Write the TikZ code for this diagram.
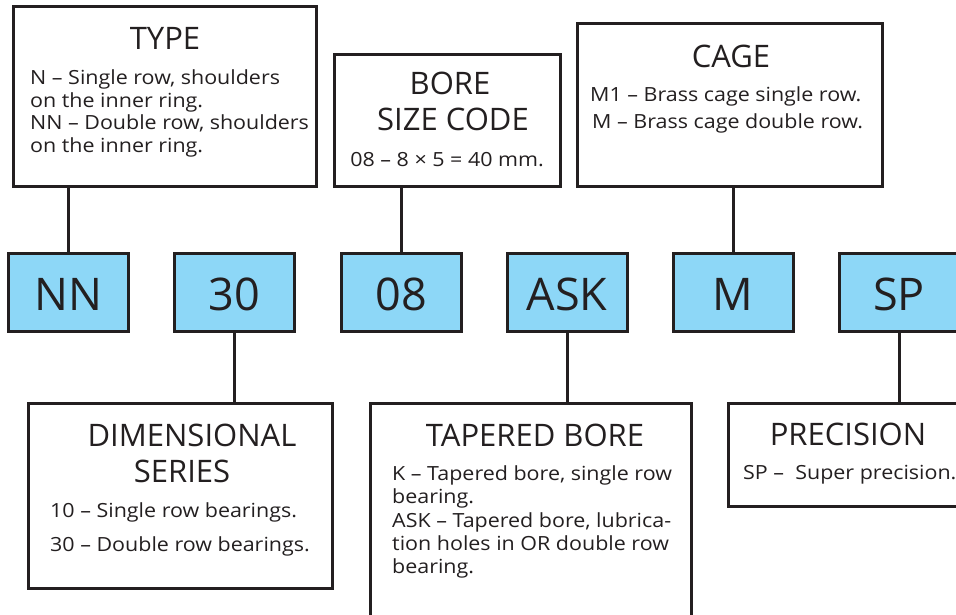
\documentclass[tikz,border=0pt]{standalone}
\usepackage{fontspec}
\setmainfont{Open Sans}
\newfontfamily\bodyfont{Open Sans}[FakeStretch=1.1]
\definecolor{ink}{HTML}{231F20}
\definecolor{codeblue}{HTML}{8DD7F7}
\tikzset{
  box/.style={draw=ink, line width=3pt, fill=white, inner sep=0pt, anchor=north west},
  codebox/.style={draw=ink, line width=3pt, fill=codeblue, inner sep=0pt, minimum width=120pt, minimum height=78pt},
  conn/.style={draw=ink, line width=3pt},
  ttl/.style={inner sep=0pt, anchor=base, text=ink, font=\fontsize{31}{36}\selectfont},
  body/.style={inner sep=0pt, anchor=base west, text=ink, font=\bodyfont\fontsize{19.5}{23}\selectfont},
  bodyc/.style={inner sep=0pt, anchor=base, text=ink, font=\bodyfont\fontsize{19.5}{23}\selectfont},
  code/.style={inner sep=0pt, anchor=base, text=ink, font=\fontsize{45}{50}\selectfont},
}
\begin{document}
\begin{tikzpicture}[x=1pt,y=-1pt]
\useasboundingbox (0,0) rectangle (956,614);
% upper boxes
\node[box, minimum width=303pt, minimum height=180pt] (type) at (12,5) {};
\node[box, minimum width=226pt, minimum height=132pt] (bore) at (333,53) {};
\node[box, minimum width=305pt, minimum height=163pt] (cage) at (576,22) {};
% lower boxes
\node[box, minimum width=304pt, minimum height=185pt] (dim) at (27,402) {};
\node[box, minimum width=321pt, minimum height=220pt] (taper) at (369,402) {};
\node[box, minimum width=240pt, minimum height=103pt] (prec) at (727,402) {};
% code boxes
\node[codebox] (nn) at (68.5,292) {};
\node[codebox] (n30) at (234.5,292) {};
\node[codebox] (n08) at (401,292) {};
\node[codebox] (ask) at (567,292) {};
\node[codebox] (m) at (733,292) {};
\node[codebox] (sp) at (899,292) {};
% connectors
\draw[conn] (nn.north) -- (nn.north |- type.south);
\draw[conn] (n08.north) -- (n08.north |- bore.south);
\draw[conn] (m.north) -- (m.north |- cage.south);
\draw[conn] (n30.south) -- (n30.south |- dim.north);
\draw[conn] (ask.south) -- (ask.south |- taper.north);
\draw[conn] (sp.south) -- (sp.south |- prec.north);
% code texts
\node[code] (tnn) at (68.5,310) {NN};
\node[code] (t30) at (234.5,310) {30};
\node[code] (t08) at (401,310) {08};
\node[code] (task) at (567,310) {ASK};
\node[code] (tm) at (733,310) {M};
\node[code] (tsp) at (899,310) {SP};
% TYPE
\node[ttl] (typet) at (165,49) {TYPE};
\node[body] (type1) at (30,84) {N – Single row, shoulders};
\node[body] (type2) at (30,107) {on the inner ring.};
\node[body] (type3) at (30,129) {NN – Double row, shoulders};
\node[body] (type4) at (30,152) {on the inner ring.};
% BORE
\node[ttl] (boret) at (450,94) {BORE};
\node[ttl] (boret2) at (453,130) {SIZE CODE};
\node[bodyc] (bore1) at (447,166) {08 – 8 × 5 = 40 mm.};
% CAGE
\node[ttl] (caget) at (731,67) {CAGE};
\node[body] (cage1) at (590,101) {M1 – Brass cage single row.};
\node[body] (cage2) at (592,128) {M – Brass cage double row.};
% DIMENSIONAL
\node[ttl] (dimt) at (192,446) {DIMENSIONAL};
\node[ttl] (dimt2) at (182,482) {SERIES};
\node[body] (dim1) at (50,517) {10 – Single row bearings.};
\node[body] (dim2) at (50,551) {30 – Double row bearings.};
% TAPERED
\node[ttl] (tapt) at (535,446) {TAPERED BORE};
\node[body] (tap1) at (392,480) {K – Tapered bore, single row};
\node[body] (tap2) at (392,503) {bearing.};
\node[body] (tap3) at (392,527) {ASK – Tapered bore, lubrica-};
\node[body] (tap4) at (392,550) {tion holes in OR double row};
\node[body] (tap5) at (392,573) {bearing.};
% PRECISION
\node[ttl] (prect) at (848,445) {PRECISION};
\node[body] (prec1) at (743,479) {SP –\ \ Super precision.};
\end{tikzpicture}
\end{document}
